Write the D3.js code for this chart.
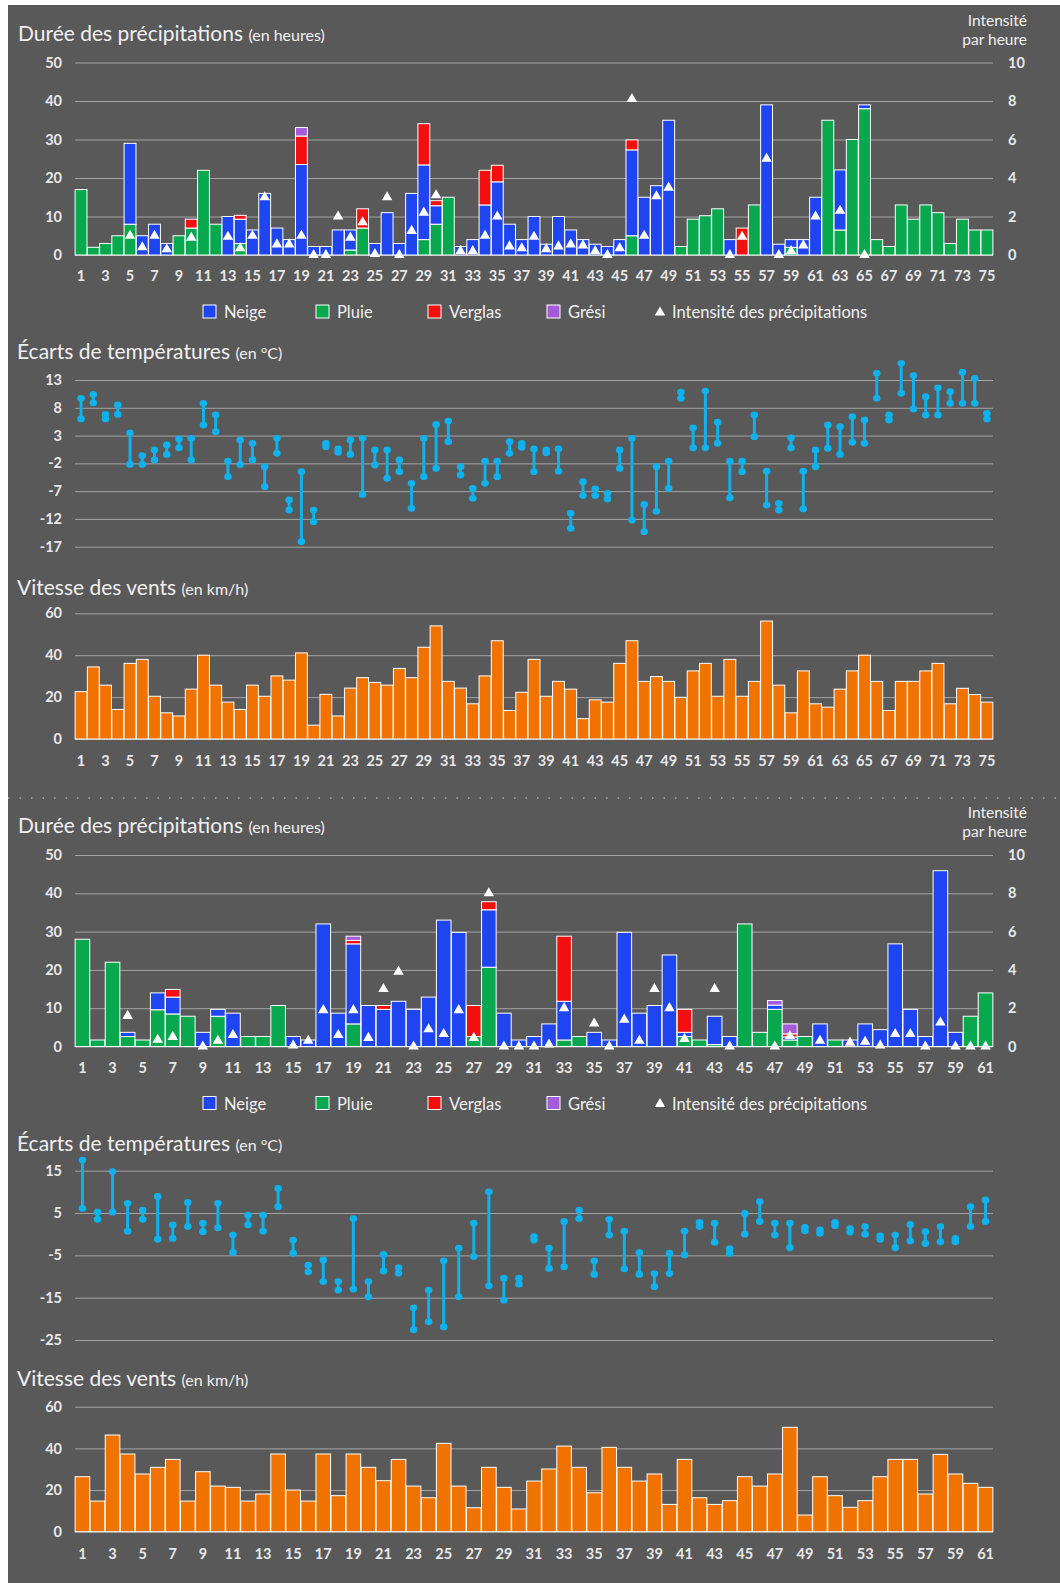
<!DOCTYPE html>
<html>
<head>
<meta charset="utf-8">
<script src="https://cdn.jsdelivr.net/npm/d3@7"></script>
<style>
body { margin: 0; background: #fff; }
svg { display: block; font-family: Lato, "Open Sans", sans-serif; }
</style>
</head>
<body>
<svg></svg>
<script>
// ---------- data : first period (75 days) ----------
const days1 = d3.range(1, 76);
const neige1 = [0,0,0,0,21,5,8,3,0,0, 0,0,10,6.3,6.5,16,7,4,23.5,2.2, 2.2,6.5,5.2,0,3,11,3,16,19.4,4.8,
  0,2.2,4,13,19,8,4,10,2.8,10, 6.5,4,2.8,2.2,4,22.3,15,18,35,0, 0,0,0,4,0,0,39,2.8,2,4,
  15,0,15.6,0,1,0,0,0,0,0, 0,0,0,0,0];
const pluie1 = [17,2,3,5,8,0,0,0,5,7, 22,8,0,3,0,0,0,0,0,0, 0,0,1.3,7,0,0,0,0,4,8,
  15,0,0,0,0,0,0,0,0,0, 0,0,0,0,0,5,0,0,0,2.2, 9.3,10.2,12,0,0,13,0,0,2,0,
  0,35,6.5,30,38,4,2.2,13,9.3,13, 11,3,9.3,6.5,6.5];
const verglas1 = [0,0,0,0,0,0,0,0,0,2.3, 0,0,0,1,0,0,0,0,7.4,0, 0,0,0,5,0,0,0,0,10.7,1.3,
  0,0,0,9,4.3,0,0,0,0,0, 0,0,0,0,0,2.6,0,0,0,0, 0,0,0,0,7,0,0,0,0,0,
  0,0,0,0,0,0,0,0,0,0, 0,0,0,0,0];
const gresi1 = [0,0,0,0,0,0,0,0,0,0, 0,0,0,0,0,0,0,0,2.2,0, 0,0,0,0,0,0,0,0,0,0,
  0,0,0,0,0,0,0,0,0,0, 0,0,0,0,0,0,0,0,0,0, 0,0,0,0,0,0,0,0,0,0,
  0,0,0,0,0,0,0,0,0,0, 0,0,0,0,0];
const intensite1 = [null,null,null,null,1.0,0.4,1.0,0.3,null,0.9, null,null,0.95,0.35,1.0,3.0,0.55,0.55,1.0,0,
  0,2.0,0.9,1.7,0.05,3.0,0,1.25,2.2,3.1, null,0.2,0.2,1.0,2.0,0.45,0.35,0.95,0.3,0.45,
  0.55,0.5,0.2,0,0.35,8.1,1.0,3.05,3.5,null, null,null,null,0,0.95,null,5,0,0.2,0.5,
  2.0,null,2.3,null,0,null,null,null,null,null, null,null,null,null,null];
const tmin1 = [6.0,8.9,6.0,6.8,-2.2,-2.2,-1.4,-0.4,0.8,-1.4, 4.9,3.7,-4.4,-2.2,-1.4,-6.2,-0.2,-10.4,-16.1,-12.5,
  1.0,0.0,-0.4,-7.6,-2.3,-4.7,-3.5,-10.1,-4.4,-2.9, 1.9,-4.1,-8.3,-5.6,-4.4,-0.2,0.9,-3.5,-0.1,-3.4,
  -13.7,-7.8,-7.8,-8.4,-2.9,-12.2,-14.3,-10.6,-6.5,9.7, 0.8,0.8,1.6,-8.2,-3.5,2.8,-9.5,-10.4,0.8,-10.2,
  -2.6,0.7,-0.4,1.8,1.6,9.7,5.8,10.6,7.8,6.7, 6.7,8.8,8.8,8.8,6.0];
const tmax1 = [9.7,10.4,6.8,8.5,3.5,-0.6,0.4,1.3,2.4,2.5, 8.8,6.7,-1.6,2.2,1.6,-2.6,2.5,-8.6,-3.5,-10.4,
  1.6,0.6,2.2,2.5,0.4,0.4,-1.4,-5.6,2.5,5.0, 5.6,-2.6,-6.5,-1.6,-1.6,1.9,1.6,0.6,0.4,0.6,
  -11,-5.3,-6.6,-7.4,0.4,2.5,-9.4,-2.6,-1.6,10.8, 4.4,11.0,5.4,-1.6,-1.6,6.7,-3.4,-9.2,2.6,-3.4,
  0.4,4.9,4.6,6.4,5.8,14.2,6.7,16.0,13.8,10.0, 11.6,10.9,14.4,13.3,7.0];
const vent1 = [22.6,34.4,25.7,14.1,36.1,38.0,20.4,12.5,11.0,23.8, 40.0,25.7,17.6,14.1,25.7,20.4,30.1,28.1,41.1,6.6,
  21.3,11.0,24.3,29.3,27.0,25.7,33.7,29.3,43.8,54.0, 27.5,24.3,16.8,30.1,46.9,13.6,22.3,38.0,20.4,27.5,
  23.8,9.7,18.7,17.6,36.1,46.9,27.5,29.8,27.5,19.9, 32.5,36.1,20.4,38.0,20.4,27.5,56.3,25.7,12.5,32.5,
  16.8,15.2,23.8,32.5,40.0,27.5,13.6,27.5,27.5,32.5, 36.1,16.8,24.2,21.2,17.6];

// ---------- data : second period (61 days) ----------
const days2 = d3.range(1, 62);
const neige2 = [0,0,0,1.1,0,4.4,4.4,0,3.7,1.8, 8.7,0,0,0,2.6,1.7,32,8.7,20.9,10.7,
  9.7,11.8,9.7,12.9,33,29.8,0,15,8.7,1.7, 2.6,5.9,10.1,0,3.7,1.7,29.8,8.7,10.7,23.9,
  1.1,0,7.4,2.6,0,0,1.1,0.8,0,5.9, 0,1.7,5.9,4.4,26.8,9.7,2.6,45.9,3.7,0, 0];
const pluie2 = [28,1.7,22,2.6,1.7,9.6,8.5,7.9,0,7.9, 0,2.6,2.6,10.7,0,0,0,0,5.9,0,
  0,0,0,0,0,0,2.6,20.7,0,0, 0,0,1.7,2.6,0,0,0,0,0,0,
  2.6,1.7,0.5,0,32,3.7,9.7,1.7,2.6,0, 1.7,0,0,0,0,0,0,0,0,7.9, 14];
const verglas2 = [0,0,0,0,0,0,2,0,0,0, 0,0,0,0,0,0,0,0,0.9,0, 1,0,0,0,0,0,8.1,2.1,0,0,
  0,0,17,0,0,0,0,0,0,0, 6,0,0,0,0,0,0,0.8,0,0, 0,0,0,0,0,0,0,0,0,0, 0];
const gresi2 = [0,0,0,0,0,0,0,0,0,0, 0,0,0,0,0,0,0,0,1.1,0, 0,0,0,0,0,0,0,0,0,0,
  0,0,0,0,0,0,0,0,0,0, 0,0,0,0,0,0,1.2,2.6,0,0, 0,0,0,0,0,0,0,0,0,0, 0];
const intensite2 = [null,null,null,1.6,null,0.35,0.5,null,0,0.3, 0.6,null,null,null,0.05,0.3,1.9,0.6,1.9,0.45,
  3.0,3.9,0,0.9,0.65,1.9,0.45,8.0,0,0, 0,0.1,2.0,null,1.2,0,1.4,0.3,3.0,2.0,
  0.4,null,3.0,0,null,null,0,0.55,null,0.3, null,0.2,0.25,0.05,0.65,0.65,0,1.25,0,0, 0];
const tmin2 = [6.1,3.5,5.2,0.7,3.5,-1.2,-1.0,1.8,0.6,1.5, -4.3,2.2,0.7,6.5,-4.5,-8.9,-11.2,-13.2,-13,-14.8,
  -8.7,-9.2,-22.6,-20.7,-21.9,-14.8,-5.3,-12.2,-15.6,-11.8, -1.4,-8.1,-7.7,3.7,-9.5,-0.2,-8.2,-9.5,-12.4,-9.3,
  -4.9,1.8,-1.9,-4.5,0,3.0,-0.2,-3.2,0.8,0.2, 2.0,0.5,0.0,-1.2,-3.2,-1.6,-2.2,-1.8,-1.8,1.8, 3.0];
const tmax2 = [17.5,5.2,14.8,7.3,5.7,8.9,2.2,7.5,2.6,7.3, -0.2,4.5,4.5,10.8,-1.4,-7.3,-6.1,-11.2,3.7,-11.2,
  -4.8,-7.9,-17.4,-13.2,-6.3,-3.3,2.6,10,-10.4,-10.4, -0.6,-3.3,3.0,5.7,-6.3,3.5,0.7,-4.3,-9.3,-4.5,
  0.7,2.8,2.6,-3.4,4.9,7.7,2.6,2.6,1.6,1.0, 2.8,1.3,1.8,-0.4,-0.2,2.3,0.6,1.8,-1.0,6.5, 8.1];
const vent2 = [26.4,14.7,46.4,37.3,27.7,30.9,34.7,14.7,28.8,21.9, 21.3,14.7,18.1,37.3,20.0,14.7,37.3,17.3,37.3,30.9,
  24.5,34.7,21.9,16.3,42.4,21.9,11.5,30.9,21.3,10.9, 24.3,30.1,41.1,30.9,18.7,40.5,30.9,24.3,27.7,13.1,
  34.7,16.3,13.1,14.9,26.4,21.9,27.7,50.1,8.0,26.4, 17.3,11.7,14.9,26.4,34.7,34.7,18.1,37.1,27.7,23.2, 21.3];

// ---------- tick labels ----------
const precipTicks = [0, 10, 20, 30, 40, 50];
const intensTicks = [0, 2, 4, 6, 8, 10];
const tempTicks1 = [13, 8, 3, -2, -7, -12, -17];
const tempTicks2 = [15, 5, -5, -15, -25];
const ventTicks = [0, 20, 40, 60];
const legendLabels = ['Neige', 'Pluie', 'Verglas', 'Grési'];

// ---------- layout ----------
const size = {w: 1060, h: 1583};
const X0 = 75, X1 = 993;
const colors = {neige: '#1e45f0', pluie: '#08a84e', verglas: '#f40f0f', gresi: '#a45bd9'};
const tempColor = '#0fb2ec';
const ventColor = '#f07300';
const textColor = '#f0f0f0';
const gridColor = '#a4a4a4';
const plain = d => String(d);   // keep the hyphen minus like the source

const svg = d3.select('svg').attr('width', size.w).attr('height', size.h);
svg.append('rect').attr('width', size.w).attr('height', size.h).attr('fill', '#fff');
svg.append('rect').attr('x', 8).attr('y', 5)
    .attr('width', size.w - 8).attr('height', size.h - 5).attr('fill', '#595959');

function styleAxis(g) {
    g.attr('font-family', null).attr('font-size', null);
    g.select('.domain').remove();
    g.selectAll('.tick line').attr('stroke', gridColor).attr('stroke-width', 1);
    g.selectAll('.tick text')
        .attr('fill', '#e8e8e8')
        .attr('font-size', 14.5)
        .attr('font-weight', 'bold');
}

function title(x, y, main, sub) {
    const t = svg.append('text').attr('x', x).attr('y', y).attr('fill', textColor);
    t.append('tspan').attr('font-size', 21).text(main + ' ');
    t.append('tspan').attr('font-size', 16).text(sub);
}

function bandScale(days) {
    return d3.scaleBand().domain(days).range([X0, X1]).paddingInner(0.03).paddingOuter(0.01);
}

// precipitation : stacked bars + intensity triangles
function drawPrecip(set, top, bottom) {
    const x = bandScale(set.days);
    const y = d3.scaleLinear().domain([0, 50]).range([bottom, top]);
    const yI = d3.scaleLinear().domain([0, 10]).range([bottom, top]);
    const g = svg.append('g');

    g.append('g').attr('transform', `translate(${X0},0)`)
        .call(d3.axisLeft(y).tickValues(precipTicks).tickFormat(plain).tickSize(-(X1 - X0)).tickPadding(13))
        .call(styleAxis);
    g.append('g').attr('transform', `translate(${X1},0)`)
        .call(d3.axisRight(yI).tickValues(intensTicks).tickFormat(plain).tickSize(0).tickPadding(15))
        .call(styleAxis);

    const rows = set.days.map((d, i) => ({
        day: d, pluie: set.pluie[i], neige: set.neige[i], verglas: set.verglas[i], gresi: set.gresi[i]
    }));
    const stack = d3.stack().keys(['pluie', 'neige', 'verglas', 'gresi'])(rows);

    g.append('g').selectAll('g').data(stack).join('g')
        .attr('fill', s => colors[s.key])
        .selectAll('rect').data(s => s.filter(d => d[1] - d[0] > 0)).join('rect')
        .attr('x', d => x(d.data.day))
        .attr('width', x.bandwidth())
        .attr('y', d => y(d[1]))
        .attr('height', d => y(d[0]) - y(d[1]))
        .attr('stroke', '#fff')
        .attr('stroke-width', 1);

    const tri = d3.symbol().type(d3.symbolTriangle).size(48);
    g.append('g').selectAll('path')
        .data(set.days.map((d, i) => ({day: d, v: set.intensite[i]})).filter(d => d.v !== null))
        .join('path')
        .attr('d', tri)
        .attr('fill', '#fff')
        .attr('transform', d => `translate(${x(d.day) + x.bandwidth() / 2},${yI(d.v)})`);

    g.append('g').attr('transform', `translate(0,${bottom})`)
        .call(d3.axisBottom(x).tickValues(set.days.filter(d => d % 2)).tickSize(0).tickPadding(16))
        .call(styleAxis);

    // "Intensité par heure" label
    g.append('text').attr('text-anchor', 'end').attr('fill', textColor).attr('font-size', 15.5)
        .attr('x', 1027).attr('y', top - 37).text('Intensité');
    g.append('text').attr('text-anchor', 'end').attr('fill', textColor).attr('font-size', 15.5)
        .attr('x', 1027).attr('y', top - 18).text('par heure');

    // legend
    const ly = bottom + 57;
    const lx = [203, 316, 428, 547];
    const keys = ['neige', 'pluie', 'verglas', 'gresi'];
    const leg = g.append('g');
    leg.selectAll('rect').data(keys).join('rect')
        .attr('x', (d, i) => lx[i]).attr('y', ly - 7)
        .attr('width', 13).attr('height', 13)
        .attr('fill', d => colors[d]).attr('stroke', '#fff').attr('stroke-width', 1);
    leg.selectAll('text.k').data(legendLabels).join('text').classed('k', true)
        .attr('x', (d, i) => lx[i] + 21).attr('y', ly + 6)
        .attr('fill', textColor).attr('font-size', 16.5).text(d => d);
    leg.append('path').attr('d', tri).attr('fill', '#fff')
        .attr('transform', `translate(660,${ly + 0.5})`);
    leg.append('text').attr('x', 672).attr('y', ly + 6)
        .attr('fill', textColor).attr('font-size', 16.5).text('Intensité des précipitations');
}

// temperature : min-max range with end markers
function drawTemp(set, ticks, top, bottom) {
    const x = bandScale(set.days);
    const y = d3.scaleLinear().domain([ticks[ticks.length - 1], ticks[0]]).range([bottom, top]);
    const g = svg.append('g');
    g.append('g').attr('transform', `translate(${X0},0)`)
        .call(d3.axisLeft(y).tickValues(ticks).tickFormat(plain).tickSize(-(X1 - X0)).tickPadding(13))
        .call(styleAxis);

    const pts = set.days.map((d, i) => ({day: d, lo: set.tmin[i], hi: set.tmax[i]}));
    const cx = d => x(d.day) + x.bandwidth() / 2;
    g.append('g').selectAll('line').data(pts).join('line')
        .attr('x1', cx).attr('x2', cx)
        .attr('y1', d => y(d.lo)).attr('y2', d => y(d.hi))
        .attr('stroke', tempColor).attr('stroke-width', 3);
    g.append('g').selectAll('ellipse')
        .data(pts.flatMap(d => [{day: d.day, v: d.lo}, {day: d.day, v: d.hi}]))
        .join('ellipse')
        .attr('cx', cx).attr('cy', d => y(d.v))
        .attr('rx', 3.8).attr('ry', 3.4)
        .attr('fill', tempColor);
}

// wind : plain bars
function drawVent(set, top, bottom) {
    const x = bandScale(set.days);
    const y = d3.scaleLinear().domain([0, 60]).range([bottom, top]);
    const g = svg.append('g');
    g.append('g').attr('transform', `translate(${X0},0)`)
        .call(d3.axisLeft(y).tickValues(ventTicks).tickFormat(plain).tickSize(-(X1 - X0)).tickPadding(13))
        .call(styleAxis);
    g.append('g').selectAll('rect').data(set.days).join('rect')
        .attr('x', d => x(d)).attr('width', x.bandwidth())
        .attr('y', (d, i) => y(set.vent[i]))
        .attr('height', (d, i) => bottom - y(set.vent[i]))
        .attr('fill', ventColor).attr('stroke', '#fff').attr('stroke-width', 1);
    g.append('g').attr('transform', `translate(0,${bottom})`)
        .call(d3.axisBottom(x).tickValues(set.days.filter(d => d % 2)).tickSize(0).tickPadding(17))
        .call(styleAxis);
}

const set1 = {days: days1, neige: neige1, pluie: pluie1, verglas: verglas1, gresi: gresi1,
    intensite: intensite1, tmin: tmin1, tmax: tmax1, vent: vent1};
const set2 = {days: days2, neige: neige2, pluie: pluie2, verglas: verglas2, gresi: gresi2,
    intensite: intensite2, tmin: tmin2, tmax: tmax2, vent: vent2};

// first period
title(18, 41, 'Durée des précipitations', '(en heures)');
drawPrecip(set1, 62.5, 255);
title(17, 359, 'Écarts de températures', '(en °C)');
drawTemp(set1, tempTicks1, 380, 546.7);
title(17, 595, 'Vitesse des vents', '(en km/h)');
drawVent(set1, 613.3, 739);

// dotted separator
svg.append('line').attr('x1', 8).attr('x2', size.w).attr('y1', 798).attr('y2', 798)
    .attr('stroke', '#a8a8a8').attr('stroke-width', 1.5).attr('stroke-dasharray', '1.5,10');

// second period
title(18, 833, 'Durée des précipitations', '(en heures)');
drawPrecip(set2, 855, 1046.5);
title(17, 1151, 'Écarts de températures', '(en °C)');
drawTemp(set2, tempTicks2, 1170.7, 1340);
title(17, 1386, 'Vitesse des vents', '(en km/h)');
drawVent(set2, 1406.7, 1531.7);
</script>
</body>
</html>
